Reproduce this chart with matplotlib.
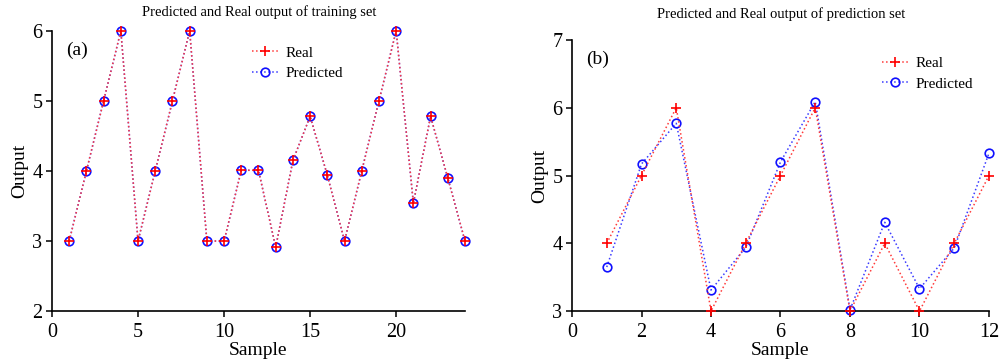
import matplotlib
matplotlib.use("Agg")
import matplotlib.pyplot as plt

plt.rcParams['font.family'] = ['Liberation Serif', 'DejaVu Serif']

# Training set
train_x = list(range(1, 25))
train_real = [3, 4, 5, 6, 3, 4, 5, 6, 3, 3, 4.01, 4.01, 2.91, 4.15, 4.78, 3.94,
              3, 4, 5, 6, 3.54, 4.78, 3.9, 3]
train_pred = [3, 4, 5, 6, 3, 4, 5, 6, 3, 3, 4.01, 4.01, 2.91, 4.15, 4.78, 3.94,
              3, 4, 5, 6, 3.54, 4.78, 3.9, 3]

# Prediction set
pred_x = list(range(1, 13))
pred_real = [4, 5, 6, 3, 4, 5, 6, 3, 4, 3, 4, 5]
pred_pred = [3.65, 5.17, 5.77, 3.31, 3.94, 5.20, 6.09, 3.02, 4.31, 3.33, 3.93, 5.33]

titles = ["Predicted and Real output of training set",
          "Predicted and Real output of prediction set"]
panel_labels = ["(a)", "(b)"]

fig = plt.figure(figsize=(10, 3.63), dpi=100)
ax1 = fig.add_axes([0.052, 0.143, 0.413, 0.772])
ax2 = fig.add_axes([0.572, 0.143, 0.417, 0.747])


def draw(ax, x, real, pred, xlim, ylim, xticks, yticks, lab, legloc):
    ax.plot(x, pred, linestyle=':', color='#3a3aff', marker='o', markersize=6.2,
            markerfacecolor='none', markeredgecolor='#1010ff', markeredgewidth=1.2,
            linewidth=1.1, label='Predicted', zorder=2, clip_on=False)
    ax.plot(x, real, linestyle=':', color='#ff3a3a', marker='+', markersize=7.5,
            markeredgecolor='#ff0000', markeredgewidth=1.2,
            linewidth=1.1, label='Real', zorder=3, clip_on=False)
    ax.set_xlim(*xlim)
    ax.set_ylim(*ylim)
    ax.set_xticks(xticks)
    ax.set_yticks(yticks)
    ax.spines['top'].set_visible(False)
    ax.spines['right'].set_visible(False)
    for s in ('left', 'bottom'):
        ax.spines[s].set_linewidth(1.2)
    ax.tick_params(direction='out', labelsize=14.5, length=4, width=1.1)
    ax.tick_params(axis='x', pad=4.5)
    ax.tick_params(axis='y', pad=3)
    ax.set_xlabel('Sample', fontsize=14, labelpad=0)
    ax.set_ylabel('Output', fontsize=14, labelpad=3)
    ax.text(0.035, 0.96, lab, transform=ax.transAxes, fontsize=14, va='top', ha='left')
    h, l = ax.get_legend_handles_labels()
    ax.legend(h[::-1], l[::-1], loc='upper left', bbox_to_anchor=legloc,
              frameon=False, fontsize=11, handlelength=1.7, handletextpad=0.5,
              labelspacing=0.45)


draw(ax1, train_x, train_real, train_pred, (0, 24), (2, 6), [0, 5, 10, 15, 20],
     [2, 3, 4, 5, 6], panel_labels[0], (0.45, 0.995))
draw(ax2, pred_x, pred_real, pred_pred, (0, 12), (3, 7), [0, 2, 4, 6, 8, 10, 12],
     [3, 4, 5, 6, 7], panel_labels[1], (0.71, 0.99))

fig.text(0.259, 0.968, titles[0], ha='center', va='center', fontsize=10.5)
fig.text(0.781, 0.962, titles[1], ha='center', va='center', fontsize=10.5)

fig.savefig('out.png', dpi=100)
